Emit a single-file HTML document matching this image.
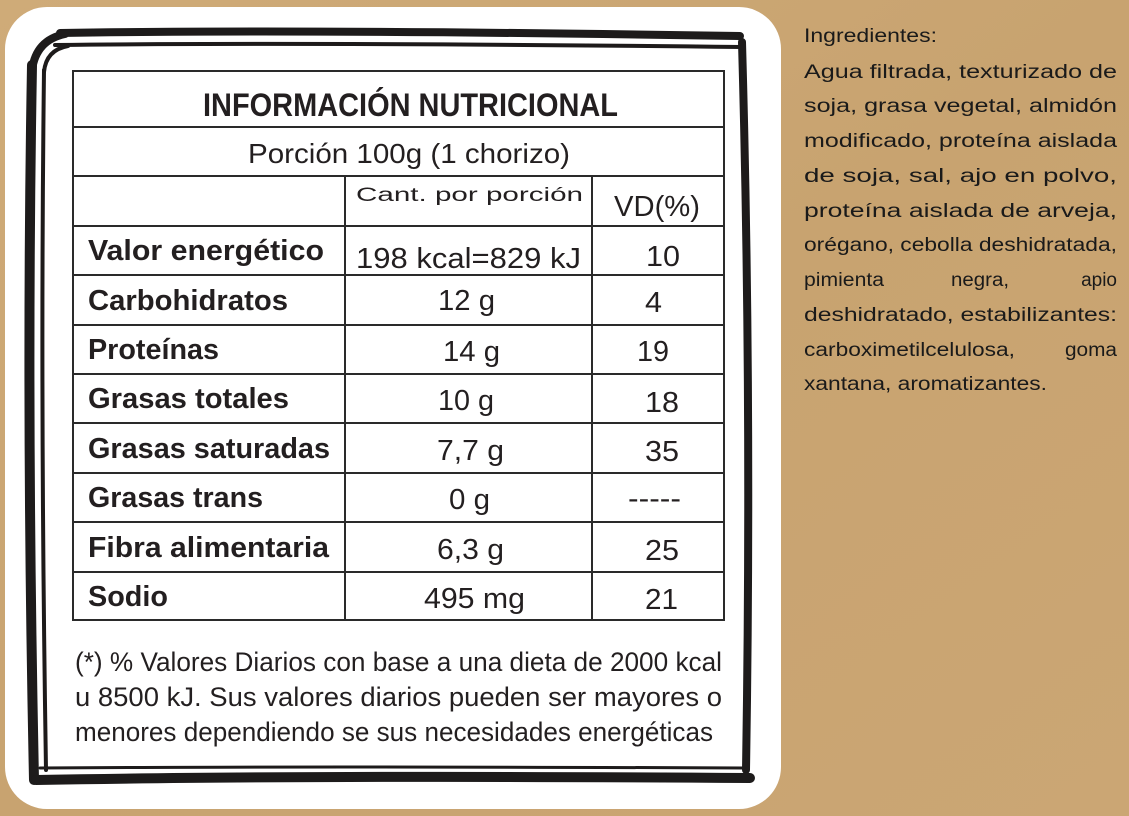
<!DOCTYPE html>
<html><head><meta charset="utf-8"><style>
html,body{margin:0;padding:0;background:#c9a472;}
svg{display:block}
</style></head><body>
<svg width="1129" height="816" xmlns="http://www.w3.org/2000/svg" font-family="Liberation Sans, sans-serif">
<defs>
<linearGradient id="bg" x1="0" y1="0" x2="1" y2="1">
<stop offset="0" stop-color="#cfab78"/><stop offset="0.5" stop-color="#c8a370"/><stop offset="1" stop-color="#cba674"/></linearGradient>
</defs>
<rect width="1129" height="816" fill="url(#bg)"/>
<rect x="5" y="7" width="776" height="802" rx="42" fill="#fff"/>
<g fill="none" stroke="#1d1b1b" stroke-linecap="round">
<path d="M60 33 Q300 29 740 36" stroke-width="8"/>
<path d="M55 45 Q300 42 742 47" stroke-width="4"/>
<path d="M32 65 Q26 400 34 780" stroke-width="10"/>
<path d="M44 70 Q40 400 46 770" stroke-width="4"/>
<path d="M742 42 Q752 400 746 770" stroke-width="8"/>
<path d="M36 780 Q300 775 750 778" stroke-width="10"/>
<path d="M40 768 Q300 766 744 768" stroke-width="3"/>
<path d="M32 70 Q36 40 65 34" stroke-width="8"/>
<path d="M44 72 Q46 50 68 46" stroke-width="4"/>
</g>
<g fill="none" stroke="#2a2a2a" stroke-width="2">
<rect x="73" y="71" width="651" height="549"/>
<line x1="73" y1="127" x2="724" y2="127"/>
<line x1="73" y1="176" x2="724" y2="176"/>
<line x1="73" y1="226" x2="724" y2="226"/>
<line x1="73" y1="275" x2="724" y2="275"/>
<line x1="73" y1="325" x2="724" y2="325"/>
<line x1="73" y1="374" x2="724" y2="374"/>
<line x1="73" y1="423" x2="724" y2="423"/>
<line x1="73" y1="473" x2="724" y2="473"/>
<line x1="73" y1="522" x2="724" y2="522"/>
<line x1="73" y1="572" x2="724" y2="572"/>
<line x1="345" y1="176" x2="345" y2="620"/>
<line x1="592" y1="176" x2="592" y2="620"/>
</g>
<g fill="#231f20">
<text x="203" y="116" font-size="32" font-weight="bold" textLength="415" lengthAdjust="spacingAndGlyphs">INFORMACIÓN NUTRICIONAL</text>
<text x="248" y="163" font-size="28" textLength="322" lengthAdjust="spacingAndGlyphs">Porción 100g (1 chorizo)</text>
<text x="356" y="201" font-size="19" textLength="227" lengthAdjust="spacingAndGlyphs">Cant. por porción</text>
<text x="614" y="216" font-size="29" textLength="86" lengthAdjust="spacingAndGlyphs">VD(%)</text>
<g font-size="29" font-weight="bold">
<text x="88" y="260" textLength="236" lengthAdjust="spacingAndGlyphs">Valor energético</text>
<text x="88" y="310" textLength="200" lengthAdjust="spacingAndGlyphs">Carbohidratos</text>
<text x="88" y="359" textLength="131" lengthAdjust="spacingAndGlyphs">Proteínas</text>
<text x="88" y="408" textLength="201" lengthAdjust="spacingAndGlyphs">Grasas totales</text>
<text x="88" y="458" textLength="242" lengthAdjust="spacingAndGlyphs">Grasas saturadas</text>
<text x="88" y="507" textLength="175" lengthAdjust="spacingAndGlyphs">Grasas trans</text>
<text x="88" y="557" textLength="241" lengthAdjust="spacingAndGlyphs">Fibra alimentaria</text>
<text x="88" y="606" textLength="80" lengthAdjust="spacingAndGlyphs">Sodio</text>
</g>
<g font-size="29">
<text x="356" y="268" textLength="225" lengthAdjust="spacingAndGlyphs">198 kcal=829 kJ</text>
<text x="438" y="310" textLength="57" lengthAdjust="spacingAndGlyphs">12 g</text>
<text x="443" y="361" textLength="57" lengthAdjust="spacingAndGlyphs">14 g</text>
<text x="438" y="410" textLength="56" lengthAdjust="spacingAndGlyphs">10 g</text>
<text x="437" y="460" textLength="67" lengthAdjust="spacingAndGlyphs">7,7 g</text>
<text x="449" y="509" textLength="41" lengthAdjust="spacingAndGlyphs">0 g</text>
<text x="437" y="559" textLength="67" lengthAdjust="spacingAndGlyphs">6,3 g</text>
<text x="424" y="608" textLength="101" lengthAdjust="spacingAndGlyphs">495 mg</text>
<text x="646" y="266" textLength="34" lengthAdjust="spacingAndGlyphs">10</text>
<text x="645" y="312" textLength="17" lengthAdjust="spacingAndGlyphs">4</text>
<text x="637" y="361" textLength="32" lengthAdjust="spacingAndGlyphs">19</text>
<text x="645" y="412" textLength="34" lengthAdjust="spacingAndGlyphs">18</text>
<text x="645" y="461" textLength="34" lengthAdjust="spacingAndGlyphs">35</text>
<text x="628" y="508" textLength="53" lengthAdjust="spacingAndGlyphs">-----</text>
<text x="645" y="560" textLength="34" lengthAdjust="spacingAndGlyphs">25</text>
<text x="645" y="609" textLength="33" lengthAdjust="spacingAndGlyphs">21</text>
</g>
<g font-size="27">
<text x="75" y="671" textLength="647" lengthAdjust="spacingAndGlyphs">(*) % Valores Diarios con base a una dieta de 2000 kcal</text>
<text x="75" y="706" textLength="647" lengthAdjust="spacingAndGlyphs">u 8500 kJ. Sus valores diarios pueden ser mayores o</text>
<text x="75" y="741" textLength="638" lengthAdjust="spacingAndGlyphs">menores dependiendo se sus necesidades energéticas</text>
</g>
</g>
<g fill="#1a1a1a" font-size="19">
<text x="804" y="42" textLength="133" lengthAdjust="spacingAndGlyphs">Ingredientes:</text>
<text x="804" y="78" textLength="313" lengthAdjust="spacingAndGlyphs">Agua filtrada, texturizado de</text>
<text x="804" y="112" textLength="313" lengthAdjust="spacingAndGlyphs">soja, grasa vegetal, almidón</text>
<text x="804" y="147" textLength="313" lengthAdjust="spacingAndGlyphs">modificado, proteína aislada</text>
<text x="804" y="182" textLength="313" lengthAdjust="spacingAndGlyphs">de soja, sal, ajo en polvo,</text>
<text x="804" y="217" textLength="313" lengthAdjust="spacingAndGlyphs">proteína aislada de arveja,</text>
<text x="804" y="251" textLength="313" lengthAdjust="spacingAndGlyphs">orégano, cebolla deshidratada,</text>
<text x="804" y="286" textLength="80" lengthAdjust="spacingAndGlyphs">pimienta</text>
<text x="951" y="286" textLength="58" lengthAdjust="spacingAndGlyphs">negra,</text>
<text x="1117" y="286" text-anchor="end">apio</text>
<text x="804" y="321" textLength="313" lengthAdjust="spacingAndGlyphs">deshidratado, estabilizantes:</text>
<text x="804" y="356" textLength="211" lengthAdjust="spacingAndGlyphs">carboximetilcelulosa,</text>
<text x="1117" y="356" text-anchor="end" textLength="52" lengthAdjust="spacingAndGlyphs">goma</text>
<text x="804" y="390" textLength="243" lengthAdjust="spacingAndGlyphs">xantana, aromatizantes.</text>
</g>
</svg>
</body></html>
